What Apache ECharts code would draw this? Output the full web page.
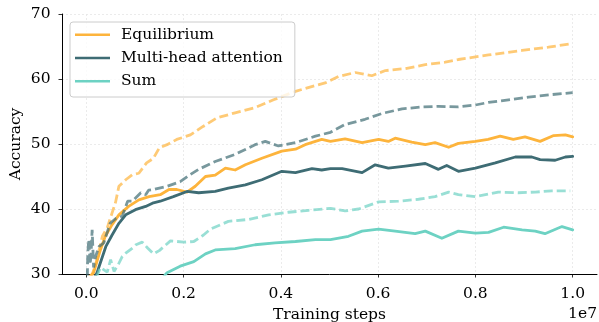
<!DOCTYPE html>
<html>
<head>
<meta charset="utf-8">
<script src="https://cdn.jsdelivr.net/npm/echarts@6/dist/echarts.min.js"></script>
<style>
html,body{margin:0;padding:0;background:#fff;}
#chart{width:599px;height:322px;}
</style>
</head>
<body>
<div id="chart"></div>
<script>
// Training steps are in units of 1e7 (axis offset label "1e7")
const xTicks = [0.0, 0.2, 0.4, 0.6, 0.8, 1.0];
const yTicks = [30, 40, 50, 60, 70];
const legendNames = ['Equilibrium', 'Multi-head attention', 'Sum'];

const eqSolidX = [0.004,0.015,0.029,0.039,0.053,0.067,0.087,0.108,0.129,0.152,0.170,0.186,0.207,0.224,0.245,0.265,0.286,0.306,0.327,0.361,0.402,0.430,0.450,0.484,0.502,0.532,0.567,0.601,0.621,0.635,0.669,0.697,0.717,0.745,0.765,0.800,0.826,0.851,0.878,0.902,0.933,0.961,0.985,1.000];
const eqSolidY = [29.4,30.2,33.7,35.8,37.6,39.1,40.4,41.4,41.9,42.2,43.0,43.0,42.6,43.5,45.0,45.2,46.3,46.0,46.8,47.8,48.9,49.2,49.9,50.7,50.4,50.8,50.2,50.7,50.4,50.9,50.3,49.9,50.2,49.5,50.1,50.4,50.7,51.2,50.7,51.1,50.4,51.3,51.4,51.1];

const eqDashX = [0.010,0.019,0.033,0.043,0.053,0.060,0.067,0.081,0.095,0.108,0.124,0.138,0.150,0.166,0.186,0.214,0.240,0.268,0.306,0.347,0.385,0.430,0.471,0.491,0.519,0.553,0.587,0.615,0.656,0.697,0.738,0.765,0.827,0.896,0.950,0.995];
const eqDashY = [29.5,31.4,35.8,37.1,39.4,41.0,43.5,44.5,45.3,45.5,47.1,47.8,49.4,49.9,50.7,51.4,52.7,54.0,54.8,55.6,56.8,58.1,59.0,59.4,60.4,61.0,60.5,61.3,61.6,62.2,62.6,63.0,63.7,64.4,64.9,65.4];

const mhaSolidX = [0.016,0.022,0.040,0.053,0.067,0.081,0.101,0.122,0.136,0.152,0.179,0.207,0.231,0.265,0.292,0.327,0.361,0.402,0.430,0.464,0.484,0.502,0.526,0.567,0.594,0.621,0.656,0.697,0.724,0.741,0.765,0.800,0.841,0.882,0.916,0.933,0.964,0.985,1.000];
const mhaSolidY = [29.4,30.2,34.2,36.0,37.8,39.1,39.9,40.4,40.9,41.2,41.9,42.7,42.5,42.7,43.2,43.7,44.5,45.8,45.6,46.2,46.0,46.2,46.2,45.6,46.8,46.3,46.6,47.0,46.1,46.7,45.8,46.3,47.1,48.0,48.0,47.6,47.5,48.0,48.1];

const mhaDashX = [0.002,0.003,0.005,0.008,0.010,0.012,0.015,0.019,0.026,0.036,0.049,0.060,0.074,0.085,0.095,0.112,0.122,0.128,0.138,0.166,0.193,0.214,0.231,0.265,0.306,0.347,0.368,0.395,0.430,0.471,0.502,0.532,0.573,0.608,0.649,0.690,0.724,0.765,0.800,0.827,0.868,0.909,0.957,1.000];
const mhaDashY = [29.5,33.0,35.3,31.5,33.5,36.8,31.0,32.7,34.2,34.8,37.8,38.5,38.9,41.2,41.2,42.5,42.2,42.9,43.0,43.5,44.2,45.3,46.1,47.3,48.4,49.9,50.4,49.7,50.2,51.2,51.8,53.0,53.8,54.7,55.4,55.7,55.8,55.7,56.0,56.4,56.8,57.2,57.6,57.9];

const sumSolidX = [0.158,0.166,0.193,0.221,0.245,0.265,0.306,0.347,0.388,0.430,0.471,0.502,0.539,0.567,0.601,0.635,0.676,0.697,0.731,0.765,0.800,0.827,0.858,0.896,0.923,0.943,0.978,1.000];
const sumSolidY = [29.5,30.2,31.2,31.9,33.1,33.7,33.9,34.5,34.8,35.0,35.3,35.3,35.8,36.6,36.9,36.6,36.2,36.6,35.5,36.6,36.3,36.4,37.2,36.8,36.6,36.2,37.3,36.8];

const sumDashX = [0.021,0.029,0.043,0.050,0.057,0.066,0.074,0.081,0.095,0.102,0.115,0.126,0.138,0.150,0.173,0.200,0.221,0.241,0.255,0.292,0.334,0.375,0.416,0.457,0.502,0.532,0.560,0.601,0.642,0.683,0.717,0.745,0.765,0.800,0.847,0.888,0.923,0.957,0.995];
const sumDashY = [29.5,31.0,30.3,32.2,30.4,31.5,32.7,33.2,34.0,34.5,34.9,34.0,33.1,33.6,35.1,34.9,35.0,36.0,36.9,38.1,38.4,39.1,39.5,39.8,40.1,39.7,40.0,41.1,41.2,41.5,41.9,42.6,42.2,41.9,42.6,42.5,42.6,42.8,42.8];

const colors = { eq: '#FDB43C', mha: '#3E6C74', sum: '#6DD2C3' };
const FONT = 'DejaVu Serif';
const FS = 15.5;

function pairs(xs, ys) { return xs.map((x, i) => [x, ys[i]]); }

function solid(name, xs, ys, color, z) {
  return { type: 'line', name: name, data: pairs(xs, ys), symbol: 'none', showSymbol: false,
    clip: true, z: z, lineStyle: { color: color, width: 2.8, join: 'round', cap: 'round' },
    itemStyle: { color: color }, emphasis: { disabled: true } };
}
function dashed(name, xs, ys, color, z) {
  return { type: 'line', name: name, data: pairs(xs, ys), symbol: 'none', showSymbol: false,
    clip: true, z: z, lineStyle: { color: color, width: 2.8, type: [9, 4], opacity: 0.7 },
    itemStyle: { color: color }, emphasis: { disabled: true } };
}

const chart = echarts.init(document.getElementById('chart'), null, { renderer: 'canvas' });
chart.setOption({
  animation: false,
  backgroundColor: '#ffffff',
  grid: { left: 62, right: 2, top: 14, bottom: 48, containLabel: false, outerBoundsMode: 'none' },
  legend: {
    data: legendNames, orient: 'vertical', left: 70, top: 22,
    icon: 'rect', itemWidth: 35, itemHeight: 2.6, itemGap: 5.3,
    padding: [3.7, 12, 6.7, 5],
    borderColor: '#cccccc', borderWidth: 1, borderRadius: 3,
    backgroundColor: 'rgba(255,255,255,0.8)',
    textStyle: { fontFamily: FONT, fontSize: FS, color: '#000', lineHeight: 18, padding: [0, 0, 0, 6] },
    selectedMode: false
  },
  xAxis: {
    type: 'value', min: -0.05, max: 1.05,
    name: 'Training steps', nameLocation: 'middle', nameGap: 33, nameMoveOverlap: false,
    nameTextStyle: { fontFamily: FONT, fontSize: FS, color: '#000' },
    axisLine: { show: true, onZero: false, lineStyle: { color: '#000', width: 1 } },
    axisTick: { show: true, length: 3.5, inside: false, customValues: xTicks, lineStyle: { color: '#000', width: 0.8 } },
    axisLabel: { customValues: xTicks, margin: 12, fontFamily: FONT, fontSize: FS, color: '#000',
      formatter: v => v.toFixed(1), showMinLabel: true, showMaxLabel: true },
    splitLine: { show: true, lineStyle: { color: '#e6e6e6', width: 0.8, type: [2, 2] } }
  },
  yAxis: {
    type: 'value', min: 30, max: 70, interval: 10,
    name: 'Accuracy', nameLocation: 'middle', nameGap: 38, nameMoveOverlap: false,
    nameTextStyle: { fontFamily: FONT, fontSize: FS, color: '#000' },
    axisLine: { show: true, onZero: false, lineStyle: { color: '#000', width: 1 } },
    axisTick: { show: true, length: 3.5, lineStyle: { color: '#000', width: 0.8 } },
    axisLabel: { margin: 11.5, fontFamily: FONT, fontSize: FS, color: '#000', formatter: v => String(v) },
    splitLine: { show: true, lineStyle: { color: '#e6e6e6', width: 0.8, type: [2, 2] } }
  },
  graphic: [{
    type: 'text', right: 2, top: 306,
    style: { text: '1e7', fontFamily: FONT, fontSize: FS, fill: '#000' }
  }],
  series: [
    solid('Equilibrium', eqSolidX, eqSolidY, colors.eq, 2),
    dashed('Equilibrium (dashed)', eqDashX, eqDashY, colors.eq, 2),
    solid('Multi-head attention', mhaSolidX, mhaSolidY, colors.mha, 2),
    dashed('Multi-head attention (dashed)', mhaDashX, mhaDashY, colors.mha, 2),
    solid('Sum', sumSolidX, sumSolidY, colors.sum, 2),
    dashed('Sum (dashed)', sumDashX, sumDashY, colors.sum, 2)
  ]
});
</script>
</body>
</html>
